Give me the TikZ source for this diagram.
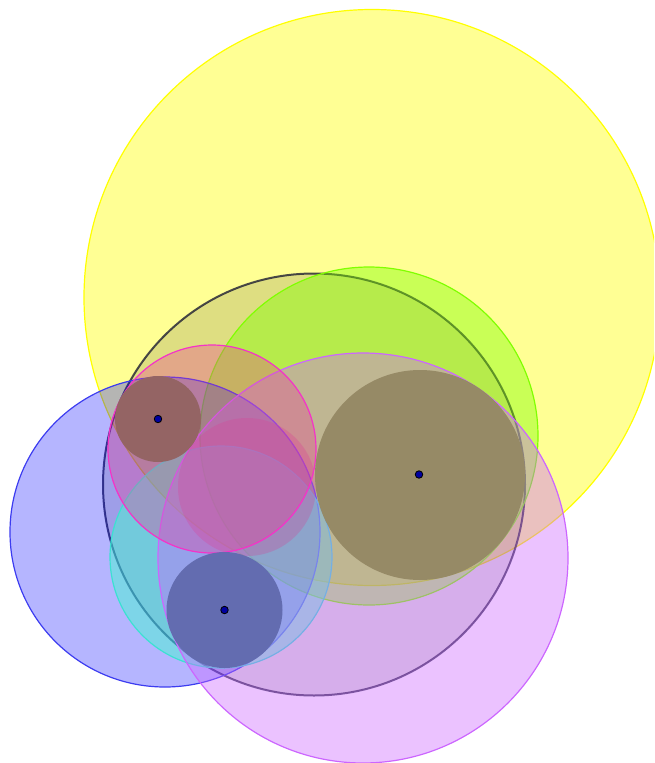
\documentclass[tikz,border=0pt]{standalone}
\usepackage{tikz}
\definecolor{cyel}{RGB}{255,255,0}
\definecolor{cgreen}{RGB}{128,255,0}
\definecolor{cviolet}{RGB}{204,102,255}
\definecolor{cblue}{RGB}{60,60,240}
\definecolor{cmagfill}{RGB}{235,55,150}
\definecolor{cmagline}{RGB}{245,50,200}
\definecolor{ccyanfill}{RGB}{70,245,210}
\definecolor{ccyanline}{RGB}{60,225,210}
\definecolor{cpink}{RGB}{215,60,150}
\definecolor{cdot}{RGB}{0,0,160}
\definecolor{cbrownA}{RGB}{148,100,100}
\definecolor{cbrownB}{RGB}{150,138,102}
\definecolor{cnavyC}{RGB}{99,108,176}
\tikzset{
  circ/.style={circle, inner sep=0pt, minimum size=#1},
  yelc/.style={draw=cyel, line width=1.2pt, fill=cyel, fill opacity=0.42},
  blackc/.style={draw=black!85!blue, draw opacity=0.7, line width=2pt, fill=black, fill opacity=0.13},
  greenc/.style={draw=cgreen, line width=1.2pt, fill=cgreen, fill opacity=0.42},
  violetc/.style={draw=cviolet, line width=1.2pt, fill=cviolet, fill opacity=0.4},
  bluec/.style={draw=cblue, line width=1.2pt, fill=blue, fill opacity=0.29},
  magc/.style={draw=cmagline, line width=1.2pt, fill=cmagfill, fill opacity=0.32},
  cyanc/.style={draw=ccyanline, line width=1.2pt, fill=ccyanfill, fill opacity=0.5},
  pinkc/.style={fill=cpink, fill opacity=0.28},
  ptc/.style={fill=#1},
  ptdot/.style={circle, inner sep=0pt, minimum size=7.5pt, draw=black, line width=0.8pt, fill=cdot}
}
\begin{document}
\begin{tikzpicture}[x=1pt,y=-1pt]
\useasboundingbox (0,0) rectangle (654,763);
\begin{scope}
\clip (0,0) rectangle (654,763);
\node[circ=576pt, yelc] (Y) at (372,297.5) {};
\node[circ=422pt, blackc] (K) at (314,484.5) {};
\node[circ=338pt, greenc] (G) at (369,436) {};
\node[circ=310pt, bluec] (B) at (165,532) {};
\node[circ=222pt, cyanc] (C) at (221,557) {};
\node[circ=410pt, violetc] (V) at (363,558) {};
\node[circ=138pt, pinkc] (P) at (247,487) {};
\node[circ=208pt, magc] (M) at (212,449) {};
\node[circ=86pt, ptc=cbrownA] (A1) at (158,419) {};
\node[circ=210pt, ptc=cbrownB] (A2) at (420,475) {};
\node[circ=116pt, ptc=cnavyC] (A3) at (224.5,610) {};
\node[ptdot] (D1) at (A1.center) {};
\node[ptdot] (D2) at (419,474.5) {};
\node[ptdot] (D3) at (224.5,610) {};
\end{scope}
\end{tikzpicture}
\end{document}
